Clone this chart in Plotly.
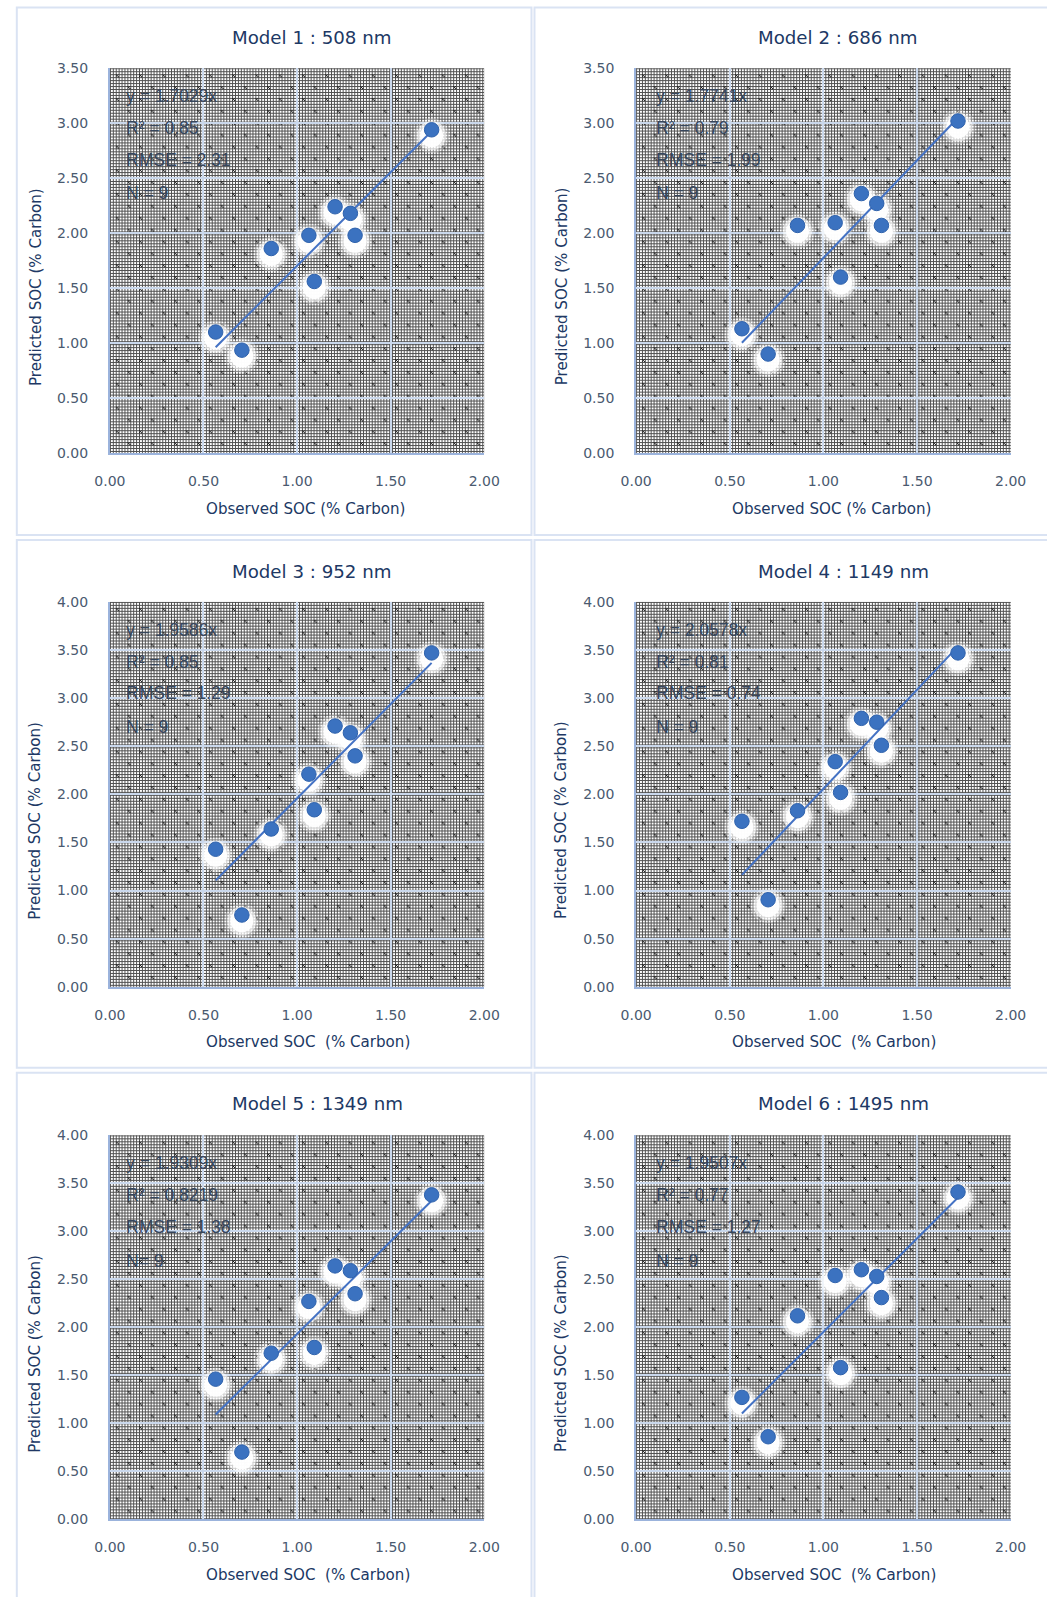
import base64
import plotly.graph_objects as go

# Figure size and the screen placement of figure pixels (scale / offset),
# used to position every element by its on-screen pixel location.
W, H = 1066, 1606
SX, OX = 0.9687, 15.2
SY, OY = 0.9903, 6.93

# Observed soil organic carbon (same samples in every model)
observed_soc = [0.565, 0.705, 0.862, 1.063, 1.092, 1.203, 1.285, 1.310, 1.719]

# Predicted SOC for each wavelength model
pred_m1 = [1.10, 0.935, 1.86, 1.98, 1.56, 2.24, 2.18, 1.98, 2.94]
pred_m2 = [1.13, 0.90, 2.07, 2.095, 1.60, 2.36, 2.27, 2.07, 3.02]
pred_m3 = [1.43, 0.746, 1.64, 2.21, 1.84, 2.71, 2.64, 2.40, 3.47]
pred_m4 = [1.72, 0.905, 1.83, 2.34, 2.02, 2.79, 2.75, 2.51, 3.47]
pred_m5 = [1.46, 0.70, 1.73, 2.27, 1.79, 2.64, 2.59, 2.35, 3.38]
pred_m6 = [1.27, 0.86, 2.12, 2.54, 1.58, 2.60, 2.53, 2.31, 3.41]

titles = ["Model 1 : 508 nm", "Model 2 : 686 nm", "Model 3 : 952 nm",
          "Model 4 : 1149 nm", "Model 5 : 1349 nm", "Model 6 : 1495 nm"]
slopes = [1.7029, 1.7741, 1.9586, 2.0578, 1.9309, 1.9507]
r2_labels = ["0.85", "0.79", "0.85", "0.81", "0.8219", "0.77"]
rmse_labels = ["2.31", "1.99", "1.29", "0.74", "1.38", "1.27"]
n_labels = ["N = 9", "N = 9", "N = 9", "N = 9", "N= 9", "N = 9"]
y_max = [3.5, 3.5, 4.0, 4.0, 4.0, 4.0]
x_titles = ["Observed SOC (% Carbon)", "Observed SOC (% Carbon)",
            "Observed SOC \u00a0(% Carbon)", "Observed SOC \u00a0(% Carbon)",
            "Observed SOC \u00a0(% Carbon)", "Observed SOC \u00a0(% Carbon)"]
y_title = "Predicted SOC (% Carbon)"
predicted = [pred_m1, pred_m2, pred_m3, pred_m4, pred_m5, pred_m6]

# ---- layout geometry (screen pixels) ----
col_px = [(109, 482.8), (634.5, 1008.5)]
row_px = [(67.2, 452), (601, 986), (1134.6, 1518.6)]
panel_cols = [(16, 530), (533, 1100)]
panel_rows = [(6.5, 534), (539, 1067), (1072, 1650)]
title_x = [228.5, 754]
title_y = [36.7, 570.4, 1103]
xtitle_x = [203, 728.5]
xtitle_y = [508.2, 1041, 1574.6]
ytitle_x = [34.6, 560.2]
stat_offsets = [27.8, 59.7, 91.5, 125.2]
stat_shift = [13.8, 18]

TITLE_C = "#203864"
TICK_C = "#4A5A70"
TEXT_C = "#36465C"
DOT_C = "#3B72C0"
LINE_C = "#4472C4"
GRID_C = "#CAD8EC"
AXIS_C = "#9BB3DC"
BORDER_C = "#DAE3F3"


def fx(p):
    return (p - OX) / SX


def fy(p):
    return (p - OY) / SY


def px_x(p):
    return fx(p) / W


def px_y(p):
    return 1 - fy(p) / H


def dotted_svg(w, h):
    """Fine dotted-grid fill with small crosses, as a data URI."""
    cells = []
    for k in range(0, 24, 3):
        cells.append(f'<rect x="0" y="{k}" width="24" height="1" fill="#505050"/>')
        cells.append(f'<rect x="{k}" y="0" width="1" height="24" fill="#505050"/>')
    for cx, cy in [(7, 7), (19, 19)]:
        for dx, dy in [(-1, -1), (1, -1), (0, 0), (-1, 1), (1, 1)]:
            cells.append(f'<rect x="{cx+dx}" y="{cy+dy}" width="1" height="1" fill="#1a1a1a"/>')
    svg = (f'<svg xmlns="http://www.w3.org/2000/svg" width="{w}" height="{h}" '
           f'viewBox="0 0 {w} {h}" shape-rendering="crispEdges">'
           f'<defs><pattern id="p" width="24" height="24" patternUnits="userSpaceOnUse">'
           f'<rect width="24" height="24" fill="#ffffff"/>{"".join(cells)}</pattern></defs>'
           f'<rect width="{w}" height="{h}" fill="url(#p)"/></svg>')
    return "data:image/svg+xml;base64," + base64.b64encode(svg.encode()).decode()


fig = go.Figure()
layout = dict(
    width=W, height=H, margin=dict(l=0, r=0, t=0, b=0),
    paper_bgcolor="white", plot_bgcolor="#9a9a9a",
    showlegend=False, font=dict(family="DejaVu Sans", color=TICK_C),
)
annotations, shapes, images = [], [], []

for i in range(6):
    r, c = divmod(i, 2)
    ax = "" if i == 0 else str(i + 1)
    vax = str(i + 7)          # visible value axis drawn over the base one
    x0, x1 = col_px[c]
    yt, yb = row_px[r]
    ymax = y_max[i]
    px_per_unit = (fy(yb) - fy(yt)) / ymax
    shift = 6 / px_per_unit   # halo sits a few pixels below each dot

    layout["xaxis" + ax] = dict(
        domain=[px_x(x0), px_x(x1)], anchor="y" + ax, range=[0, 2], dtick=0.5,
        tickformat=".2f", showgrid=True, gridcolor=GRID_C, gridwidth=2,
        zeroline=False, showline=True, linecolor=AXIS_C, linewidth=2,
        ticks="", ticklabelstandoff=14, tickfont=dict(size=14, color=TICK_C),
        fixedrange=True,
    )
    # base axis: carries the halo layer only (range offset by a few pixels)
    layout["yaxis" + ax] = dict(
        domain=[px_y(yb), px_y(yt)], anchor="x" + ax, range=[shift, ymax + shift],
        visible=False, fixedrange=True,
    )
    layout["yaxis" + vax] = dict(
        overlaying="y" + ax, anchor="x" + ax, side="left", range=[0, ymax], dtick=0.5,
        tickformat=".2f", showgrid=True, gridcolor=GRID_C, gridwidth=2,
        zeroline=False, showline=True, linecolor=AXIS_C, linewidth=2,
        ticks="", ticklabelstandoff=17, tickfont=dict(size=14, color=TICK_C),
        fixedrange=True,
    )

    # soft white halo under the markers
    for size, op in [(35, 0.28), (29, 0.6), (23, 0.95)]:
        fig.add_trace(go.Scatter(
            x=observed_soc, y=predicted[i], mode="markers",
            xaxis="x" + ax, yaxis="y" + ax, hoverinfo="skip",
            marker=dict(size=size, color="white", opacity=op, line=dict(width=0)),
        ))

    # trendline through the origin, over the observed range
    xs = [min(observed_soc), max(observed_soc)]
    fig.add_trace(go.Scatter(
        x=xs, y=[slopes[i] * v for v in xs], mode="lines",
        xaxis="x" + ax, yaxis="y" + vax,
        line=dict(color=LINE_C, width=2),
    ))

    fig.add_trace(go.Scatter(
        x=observed_soc, y=predicted[i], mode="markers",
        xaxis="x" + ax, yaxis="y" + vax,
        marker=dict(size=14.5, color=DOT_C, line=dict(width=1, color="#2F62AC")),
    ))

    # dotted fill of the plotting area
    images.append(dict(
        source=dotted_svg(round(fx(x1) - fx(x0)), round(fy(yb) - fy(yt))),
        xref=f"x{ax} domain", yref=f"y{ax} domain",
        x=0, y=1, sizex=1, sizey=1, xanchor="left", yanchor="top",
        sizing="stretch", layer="below",
    ))

    # chart frame
    px0, px1 = panel_cols[c]
    py0, py1 = panel_rows[r]
    shapes.append(dict(
        type="rect", xref="paper", yref="paper",
        x0=px_x(px0), x1=px_x(px1), y0=px_y(py1), y1=px_y(py0),
        line=dict(color=BORDER_C, width=2), fillcolor="rgba(0,0,0,0)",
    ))

    annotations.append(dict(
        text=titles[i], xref="paper", yref="paper",
        x=px_x(title_x[c]), y=px_y(title_y[r]), xanchor="left", yanchor="middle",
        showarrow=False, font=dict(size=18.2, color=TITLE_C),
    ))
    annotations.append(dict(
        text=x_titles[i], xref="paper", yref="paper",
        x=px_x(xtitle_x[c]), y=px_y(xtitle_y[r]), xanchor="left", yanchor="middle",
        showarrow=False, font=dict(size=15.1, color=TITLE_C),
    ))
    annotations.append(dict(
        text=y_title, xref="paper", yref="paper", textangle=-90,
        x=px_x(ytitle_x[c]), y=px_y((yt + yb) / 2 + 26), xanchor="center", yanchor="middle",
        showarrow=False, font=dict(size=15.1, color=TITLE_C),
    ))

    stats = [f"y = {slopes[i]:.4f}x", f"R² = {r2_labels[i]}",
             f"RMSE = {rmse_labels[i]}", n_labels[i]]
    for line_txt, off in zip(stats, stat_offsets):
        annotations.append(dict(
            text=line_txt, xref=f"x{ax} domain", yref=f"y{ax} domain",
            x=0, y=1, xanchor="left", yanchor="middle",
            xshift=stat_shift[c], yshift=-off,
            showarrow=False, font=dict(family="Liberation Sans", size=17.5, color=TEXT_C),
        ))

layout["annotations"] = annotations
layout["shapes"] = shapes
layout["images"] = images
fig.update_layout(**layout)

fig.write_html("out.html")
